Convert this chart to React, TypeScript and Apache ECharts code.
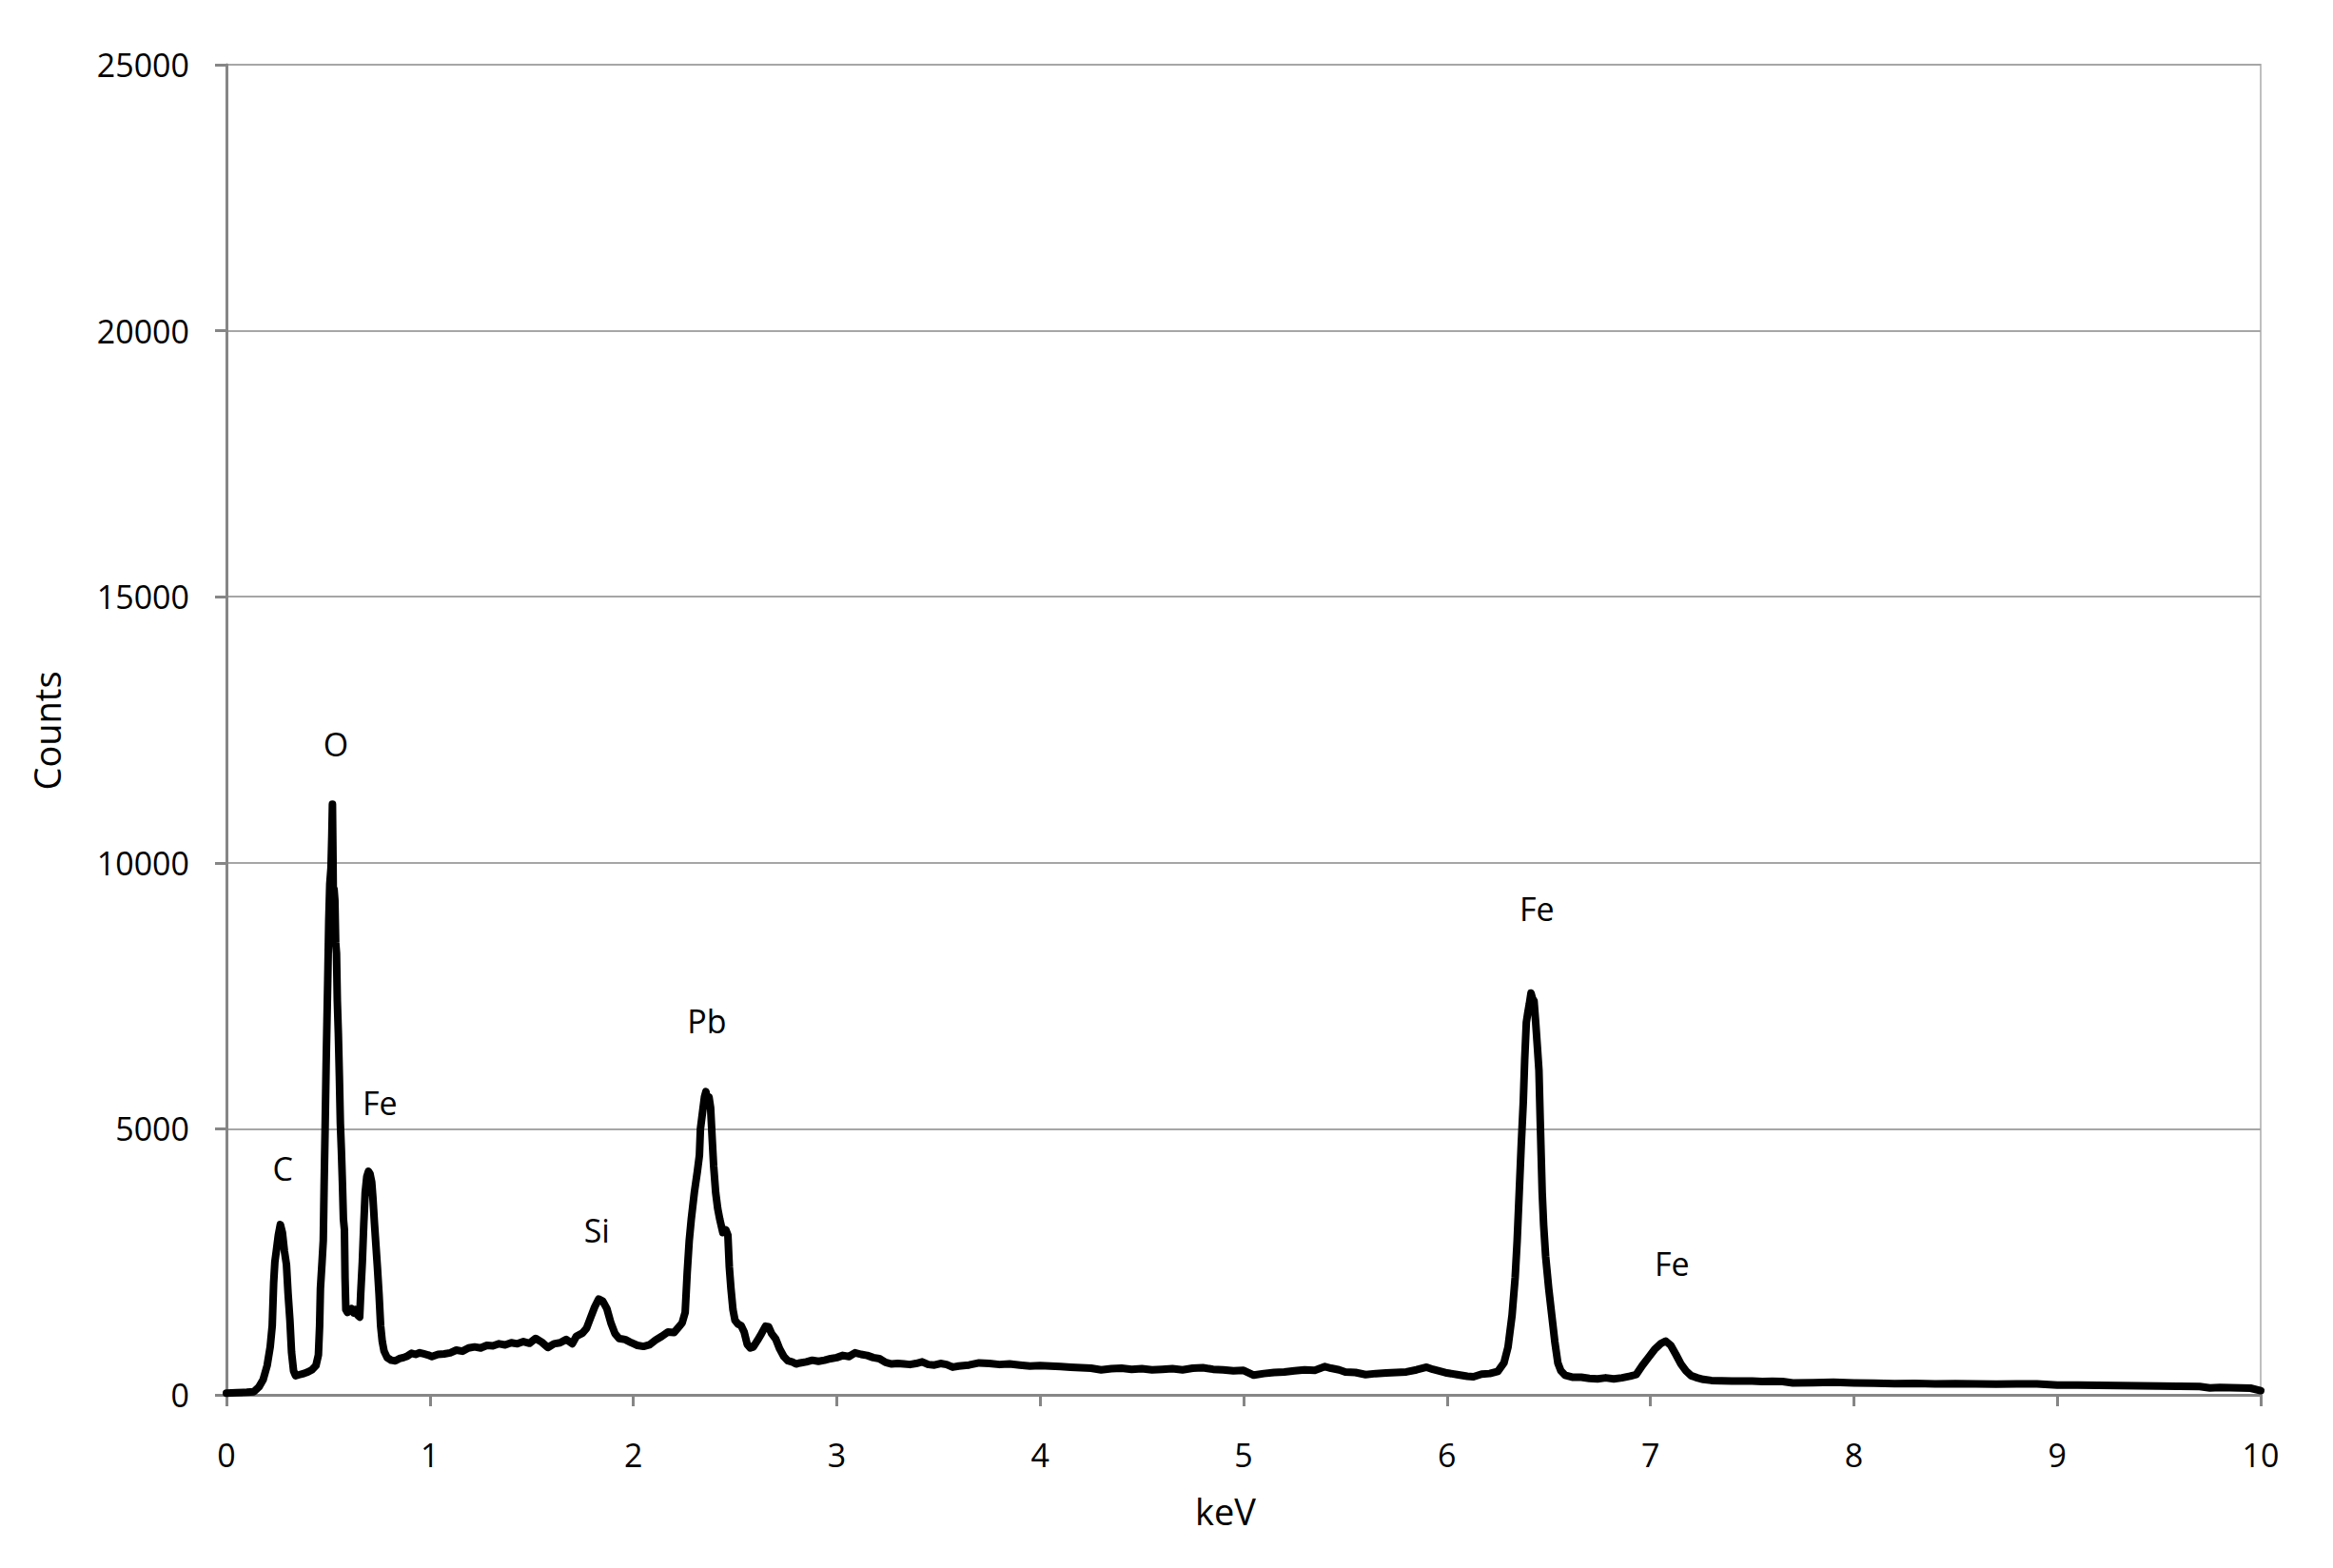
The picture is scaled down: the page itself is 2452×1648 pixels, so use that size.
import React, { useEffect, useRef } from "react";
import * as echarts from "echarts";

const keV: number[] = [
  0, 0.05, 0.1, 0.135, 0.16, 0.18, 0.2, 0.215, 0.225, 0.232, 0.238, 0.245, 0.255, 0.265, 0.275, 0.285, 0.295, 0.303, 0.312, 0.32,
  0.33, 0.34, 0.36, 0.38, 0.4, 0.42, 0.44, 0.452, 0.458, 0.462, 0.47, 0.476, 0.48, 0.485, 0.49, 0.494, 0.498, 0.503, 0.508, 0.514,
  0.518, 0.521, 0.524, 0.527, 0.529, 0.533, 0.537, 0.541, 0.545, 0.55, 0.555, 0.56, 0.565, 0.57, 0.575, 0.58, 0.583, 0.587, 0.595, 0.605,
  0.615, 0.625, 0.635, 0.645, 0.655, 0.66, 0.668, 0.675, 0.682, 0.69, 0.698, 0.706, 0.714, 0.72, 0.728, 0.735, 0.742, 0.75, 0.758, 0.766,
  0.775, 0.79, 0.81, 0.83, 0.85, 0.87, 0.89, 0.91, 0.93, 0.95, 0.97, 0.99, 1.01, 1.04, 1.07, 1.1, 1.13, 1.16, 1.19, 1.22,
  1.25, 1.28, 1.31, 1.34, 1.37, 1.4, 1.43, 1.46, 1.49, 1.52, 1.55, 1.58, 1.61, 1.64, 1.67, 1.7, 1.72, 1.75, 1.77, 1.79,
  1.81, 1.83, 1.85, 1.87, 1.89, 1.91, 1.93, 1.96, 1.99, 2.02, 2.05, 2.08, 2.11, 2.14, 2.17, 2.2, 2.22, 2.24, 2.255, 2.265,
  2.275, 2.285, 2.3, 2.315, 2.325, 2.33, 2.34, 2.35, 2.357, 2.365, 2.372, 2.38, 2.388, 2.395, 2.405, 2.415, 2.425, 2.44, 2.455, 2.465,
  2.472, 2.48, 2.49, 2.5, 2.515, 2.53, 2.545, 2.56, 2.575, 2.59, 2.61, 2.63, 2.65, 2.665, 2.68, 2.7, 2.72, 2.74, 2.76, 2.78,
  2.8, 2.82, 2.85, 2.88, 2.91, 2.94, 2.97, 3.0, 3.03, 3.06, 3.09, 3.12, 3.15, 3.18, 3.21, 3.24, 3.27, 3.3, 3.33, 3.36,
  3.39, 3.42, 3.45, 3.48, 3.51, 3.54, 3.57, 3.6, 3.65, 3.7, 3.75, 3.8, 3.85, 3.9, 3.95, 4.0, 4.05, 4.1, 4.15, 4.2,
  4.25, 4.3, 4.35, 4.4, 4.45, 4.5, 4.55, 4.6, 4.65, 4.7, 4.75, 4.8, 4.85, 4.9, 4.95, 5.0, 5.05, 5.1, 5.15, 5.2,
  5.25, 5.3, 5.35, 5.4, 5.43, 5.47, 5.5, 5.55, 5.6, 5.65, 5.7, 5.75, 5.8, 5.85, 5.9, 5.93, 5.97, 6.0, 6.05, 6.1,
  6.13, 6.17, 6.21, 6.25, 6.28, 6.3, 6.32, 6.335, 6.345, 6.355, 6.365, 6.375, 6.382, 6.39, 6.398, 6.405, 6.413, 6.42, 6.428, 6.436,
  6.445, 6.452, 6.458, 6.463, 6.468, 6.475, 6.485, 6.5, 6.515, 6.53, 6.545, 6.56, 6.58, 6.62, 6.66, 6.7, 6.74, 6.78, 6.82, 6.86,
  6.9, 6.93, 6.96, 6.99, 7.02, 7.05, 7.075, 7.1, 7.125, 7.15, 7.175, 7.2, 7.23, 7.26, 7.3, 7.4, 7.5, 7.55, 7.6, 7.65,
  7.7, 7.8, 7.9, 8.0, 8.1, 8.2, 8.3, 8.4, 8.5, 8.6, 8.7, 8.8, 8.9, 9.0, 9.1, 9.2, 9.3, 9.4, 9.5, 9.6,
  9.7, 9.75, 9.8, 9.9, 9.95, 10.0,
];

const counts: number[] = [
  30, 40, 50, 60, 150, 280, 550, 900, 1300, 2100, 2500, 2700, 3000, 3200, 3050, 2700, 2450, 1900, 1400, 800,
  450, 360, 380, 400, 430, 470, 550, 750, 1300, 2000, 2500, 2900, 3900, 5000, 6200, 7000, 7800, 8900, 9600, 9900,
  10500, 11100, 10000, 8500, 9500, 9300, 8500, 8300, 7400, 6800, 6000, 5100, 4600, 4000, 3300, 3100, 2200, 1600, 1550, 1580,
  1620, 1540, 1600, 1500, 1460, 1900, 2500, 3200, 3800, 4100, 4200, 4150, 4000, 3700, 3200, 2800, 2400, 1900, 1300, 1000,
  820, 700, 650, 640, 680, 700, 730, 780, 760, 790, 770, 750, 720, 760, 770, 790, 840, 820, 880, 900,
  880, 930, 920, 960, 940, 980, 960, 1000, 970, 1060, 990, 890, 960, 980, 1040, 960, 1100, 1160, 1250, 1450,
  1650, 1800, 1760, 1620, 1350, 1150, 1060, 1040, 980, 930, 910, 940, 1030, 1100, 1180, 1170, 1260, 1350, 1550, 2300,
  2900, 3300, 3800, 4200, 4500, 5000, 5300, 5600, 5700, 5500, 5600, 5400, 4800, 4300, 3800, 3500, 3300, 3050, 3100, 3000,
  2400, 2000, 1600, 1400, 1330, 1300, 1180, 950, 880, 900, 1020, 1150, 1290, 1280, 1150, 1050, 860, 720, 640, 620,
  580, 600, 620, 650, 630, 650, 680, 700, 740, 720, 790, 760, 740, 700, 680, 610, 580, 590, 580, 570,
  590, 620, 570, 560, 590, 570, 520, 540, 560, 600, 590, 570, 580, 560, 540, 550, 540, 530, 520, 510,
  500, 470, 490, 500, 480, 490, 470, 480, 490, 470, 500, 510, 480, 470, 450, 460, 370, 400, 420, 430,
  450, 470, 460, 530, 500, 470, 430, 420, 380, 400, 410, 420, 430, 470, 520, 480, 440, 410, 380, 350,
  340, 390, 400, 440, 600, 900, 1500, 2200, 2900, 3800, 4700, 5500, 6300, 7000, 7200, 7350, 7550, 7450, 7400, 7000,
  6500, 6100, 5200, 4500, 3800, 3200, 2600, 2000, 1500, 1000, 600, 450, 370, 330, 330, 310, 300, 320, 300, 320,
  350, 380, 550, 700, 850, 960, 1010, 930, 760, 580, 450, 360, 320, 290, 270, 260, 260, 250, 255, 250,
  225, 230, 235, 225, 220, 210, 215, 205, 210, 205, 200, 205, 205, 185, 185, 180, 175, 170, 165, 160,
  155, 130, 140, 130, 125, 80,
];

const peakLabels: string[] = ["C", "O", "Fe", "Si", "Pb", "Fe", "Fe"];
const peakLabelKeV: number[] = [0.277, 0.538, 0.754, 1.821, 2.362, 6.442, 7.106];
const peakLabelCounts: number[] = [4255, 12237, 5489, 3093, 7032, 9137, 2459];

const xTicks = { min: 0, max: 10, interval: 1 };
const yTicks = { min: 0, max: 25000, interval: 5000 };

const FONT = "'Open Sans', 'Liberation Sans', sans-serif";

export default function App() {
  const ref = useRef<HTMLDivElement>(null);
  useEffect(() => {
    if (!ref.current) return;
    const chart = echarts.init(ref.current, undefined, { renderer: "svg" });
    const lineData = keV.map((k, i) => [k, counts[i]]);
    const labelData = peakLabels.map((t, i) => ({ value: [peakLabelKeV[i], peakLabelCounts[i]], name: t }));
    chart.setOption({
      animation: false,
      backgroundColor: "#ffffff",
      grid: {
        left: 238,
        right: 76,
        top: 68,
        bottom: 182,
        show: true,
        borderColor: "#bfbfbf",
        borderWidth: 2,
      },
      xAxis: {
        type: "value",
        min: xTicks.min,
        max: xTicks.max,
        interval: xTicks.interval,
        axisLine: { show: true, onZero: false, lineStyle: { color: "#868686", width: 3 } },
        axisTick: { show: true, length: 12, lineStyle: { color: "#868686", width: 3 } },
        axisLabel: { color: "#000", fontSize: 34, fontFamily: FONT, margin: 46, formatter: (v: number) => String(v) },
        splitLine: { show: false },
      },
      yAxis: {
        type: "value",
        min: yTicks.min,
        max: yTicks.max,
        interval: yTicks.interval,
        axisLine: { show: true, lineStyle: { color: "#868686", width: 3 } },
        axisTick: { show: true, length: 12, lineStyle: { color: "#868686", width: 3 } },
        axisLabel: { color: "#000", fontSize: 34, fontFamily: FONT, margin: 39, formatter: (v: number) => String(v) },
        splitLine: { show: true, lineStyle: { color: "#a6a6a6", width: 2 } },
      },
      graphic: [
        {
          type: "text",
          x: 49,
          y: 768,
          rotation: Math.PI / 2,
          style: {
            text: "Counts",
            fontSize: 38,
            fontFamily: FONT,
            fill: "#000",
            textAlign: "center",
            textVerticalAlign: "middle",
          },
        },
        {
          type: "text",
          x: 1288,
          y: 1588,
          style: {
            text: "keV",
            fontSize: 38,
            fontFamily: FONT,
            fill: "#000",
            textAlign: "center",
            textVerticalAlign: "middle",
          },
        },
      ],
      series: [
        {
          type: "line",
          data: lineData,
          showSymbol: false,
          symbol: "none",
          lineStyle: { color: "#000", width: 8, join: "round", cap: "round" },
          z: 3,
        },
        {
          type: "scatter",
          data: labelData,
          symbolSize: 0,
          itemStyle: { color: "rgba(0,0,0,0)" },
          label: {
            show: true,
            position: "inside",
            formatter: "{b}",
            color: "#000",
            opacity: 1,
            textBorderWidth: 0,
            fontSize: 34,
            fontFamily: FONT,
          },
          z: 4,
        },
      ],
    });
    return () => chart.dispose();
  }, []);
  return (
    <div
      ref={ref}
      style={{ position: "absolute", left: 0, top: 0, width: 2452, height: 1648, background: "#fff" }}
    />
  );
}
